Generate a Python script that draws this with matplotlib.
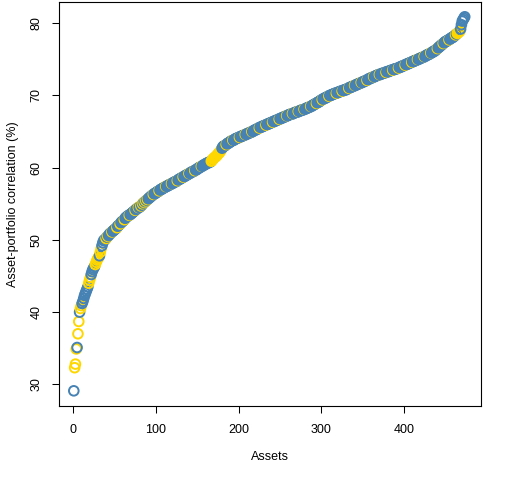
import matplotlib
matplotlib.use("Agg")
import matplotlib.pyplot as plt
import numpy as np

# asset-portfolio correlation (%) for each asset, sorted
correlation = [
	29.1, 32.3, 32.8, 34.9, 35.1, 37.0, 38.7, 40.0, 40.5, 40.9,
	41.2, 41.5, 41.9, 42.3, 42.6, 42.9, 43.2, 43.5, 44.0, 44.4,
	44.8, 45.2, 45.6, 45.9, 46.1, 46.3, 46.6, 46.9, 47.2, 47.4,
	47.6, 47.8, 48.3, 48.8, 49.2, 49.6, 49.9, 50.0, 50.1, 50.2,
	50.4, 50.5, 50.6, 50.8, 50.9, 51.0, 51.1, 51.2, 51.3, 51.4,
	51.5, 51.6, 51.7, 51.9, 52.0, 52.1, 52.2, 52.4, 52.5, 52.6,
	52.7, 52.8, 53.0, 53.1, 53.2, 53.3, 53.4, 53.4, 53.5, 53.6,
	53.7, 53.8, 53.9, 54.0, 54.1, 54.2, 54.3, 54.4, 54.5, 54.5,
	54.6, 54.7, 54.8, 55.0, 55.1, 55.2, 55.3, 55.4, 55.5, 55.6,
	55.7, 55.8, 55.9, 56.0, 56.1, 56.2, 56.3, 56.4, 56.4, 56.5,
	56.6, 56.7, 56.7, 56.8, 56.9, 57.0, 57.0, 57.1, 57.2, 57.2,
	57.3, 57.4, 57.4, 57.5, 57.5, 57.6, 57.7, 57.7, 57.8, 57.8,
	57.9, 58.0, 58.0, 58.1, 58.1, 58.2, 58.3, 58.4, 58.4, 58.5,
	58.6, 58.6, 58.7, 58.8, 58.8, 58.9, 59.0, 59.0, 59.1, 59.2,
	59.2, 59.3, 59.4, 59.4, 59.5, 59.5, 59.6, 59.7, 59.7, 59.8,
	59.9, 60.0, 60.0, 60.1, 60.2, 60.2, 60.3, 60.4, 60.4, 60.5,
	60.6, 60.6, 60.7, 60.7, 60.8, 60.8, 60.9, 61.0, 61.2, 61.3,
	61.4, 61.5, 61.6, 61.7, 61.9, 62.0, 62.1, 62.3, 62.5, 62.7,
	62.9, 63.0, 63.0, 63.1, 63.2, 63.3, 63.4, 63.4, 63.5, 63.6,
	63.7, 63.7, 63.8, 63.8, 63.9, 64.0, 64.0, 64.1, 64.1, 64.2,
	64.2, 64.3, 64.3, 64.4, 64.4, 64.5, 64.5, 64.6, 64.6, 64.7,
	64.7, 64.8, 64.8, 64.9, 64.9, 65.0, 65.0, 65.1, 65.2, 65.2,
	65.3, 65.3, 65.4, 65.5, 65.5, 65.6, 65.6, 65.7, 65.7, 65.8,
	65.8, 65.9, 65.9, 66.0, 66.0, 66.1, 66.1, 66.2, 66.2, 66.3,
	66.3, 66.4, 66.4, 66.5, 66.5, 66.6, 66.6, 66.7, 66.7, 66.8,
	66.8, 66.9, 66.9, 67.0, 67.0, 67.1, 67.1, 67.2, 67.2, 67.3,
	67.3, 67.4, 67.4, 67.4, 67.5, 67.5, 67.6, 67.6, 67.7, 67.7,
	67.7, 67.8, 67.8, 67.9, 67.9, 68.0, 68.0, 68.0, 68.1, 68.1,
	68.2, 68.2, 68.3, 68.3, 68.4, 68.4, 68.5, 68.5, 68.6, 68.7,
	68.7, 68.8, 68.9, 68.9, 69.0, 69.1, 69.1, 69.2, 69.3, 69.4,
	69.4, 69.5, 69.6, 69.6, 69.7, 69.7, 69.8, 69.9, 69.9, 70.0,
	70.0, 70.1, 70.1, 70.2, 70.2, 70.3, 70.3, 70.3, 70.4, 70.4,
	70.5, 70.5, 70.6, 70.6, 70.6, 70.7, 70.7, 70.8, 70.8, 70.8,
	70.9, 71.0, 71.0, 71.1, 71.1, 71.2, 71.2, 71.3, 71.3, 71.4,
	71.4, 71.5, 71.5, 71.6, 71.6, 71.7, 71.7, 71.8, 71.8, 71.9,
	71.9, 72.0, 72.0, 72.1, 72.1, 72.2, 72.3, 72.3, 72.4, 72.4,
	72.5, 72.5, 72.6, 72.6, 72.7, 72.7, 72.8, 72.8, 72.9, 72.9,
	72.9, 73.0, 73.0, 73.1, 73.1, 73.1, 73.2, 73.2, 73.3, 73.3,
	73.3, 73.4, 73.4, 73.5, 73.5, 73.5, 73.6, 73.6, 73.7, 73.7,
	73.7, 73.8, 73.8, 73.9, 73.9, 74.0, 74.0, 74.1, 74.1, 74.2,
	74.2, 74.3, 74.3, 74.4, 74.4, 74.5, 74.5, 74.6, 74.6, 74.7,
	74.7, 74.8, 74.8, 74.9, 74.9, 75.0, 75.0, 75.1, 75.1, 75.2,
	75.2, 75.3, 75.3, 75.4, 75.4, 75.5, 75.6, 75.6, 75.7, 75.7,
	75.8, 75.9, 75.9, 76.0, 76.1, 76.1, 76.2, 76.3, 76.4, 76.5,
	76.6, 76.7, 76.8, 76.9, 77.0, 77.1, 77.2, 77.3, 77.4, 77.5,
	77.5, 77.6, 77.7, 77.7, 77.8, 77.9, 78.0, 78.0, 78.1, 78.2,
	78.3, 78.4, 78.5, 78.6, 78.7, 78.8, 78.9, 79.2, 79.8, 80.3,
	80.5, 80.7, 80.9,
]

# ranks (1-based) of the assets drawn in gold, the rest are steelblue
gold_assets = [
	2, 3, 4, 6, 7, 9, 10, 19, 20, 21, 27, 28, 29, 30, 31, 33, 34, 40, 42,
	47, 53, 57, 62, 68, 75, 79, 82, 84, 86, 88, 90, 97, 104, 112, 119, 126,
	133, 140, 147, 155, 167, 168, 169, 170, 171, 172, 173, 174, 175, 176,
	177, 178, 179, 185, 193, 201, 208, 216, 225, 233, 241, 249, 258, 265,
	272, 279, 287, 294, 301, 309, 318, 325, 333, 340, 348, 355, 363, 370,
	378, 386, 393, 401, 409, 416, 424, 432, 440, 447, 454, 462, 464, 465,
	466, 467,
]

x_ticks = [0, 100, 200, 300, 400]
y_ticks = [30, 40, 50, 60, 70, 80]

plt.rcParams['font.family'] = ['Liberation Sans', 'DejaVu Sans']
plt.rcParams['font.size'] = 9

def main():
	assets = np.arange(1, len(correlation) + 1)
	gold = set(gold_assets)
	colors = ["#FFD700" if a in gold else "#4682B4" for a in assets]

	fig = plt.figure(figsize=(5.12, 4.8), dpi=100)
	ax = fig.add_axes([59.3 / 512, 1 - 405.7 / 480, 422 / 512, 404 / 480])
	ax.scatter(assets, correlation, s=48, facecolors="none",
		edgecolors=colors, linewidths=1.4)

	ax.set_xlim(-16.5, 493)
	ax.set_ylim(27.04, 82.99)
	ax.set_xticks(x_ticks)
	ax.set_yticks(y_ticks)
	ax.tick_params(direction="out", length=5, width=0.75, color="black")
	ax.tick_params(axis="x", pad=8)
	ax.tick_params(axis="y", pad=7)
	for lab in ax.get_yticklabels():
		lab.set_rotation(90)
		lab.set_va("center")
	for s in ax.spines.values():
		s.set_linewidth(0.8)

	fig.text(270 / 512, 1 - 457 / 480, "Assets", ha="center", va="center")
	fig.text(13 / 512, 1 - 204 / 480, "Asset-portfolio correlation (%)",
		ha="center", va="center", rotation=90)

	fig.savefig("out.png", dpi=100)

if __name__ == '__main__':
	main()
